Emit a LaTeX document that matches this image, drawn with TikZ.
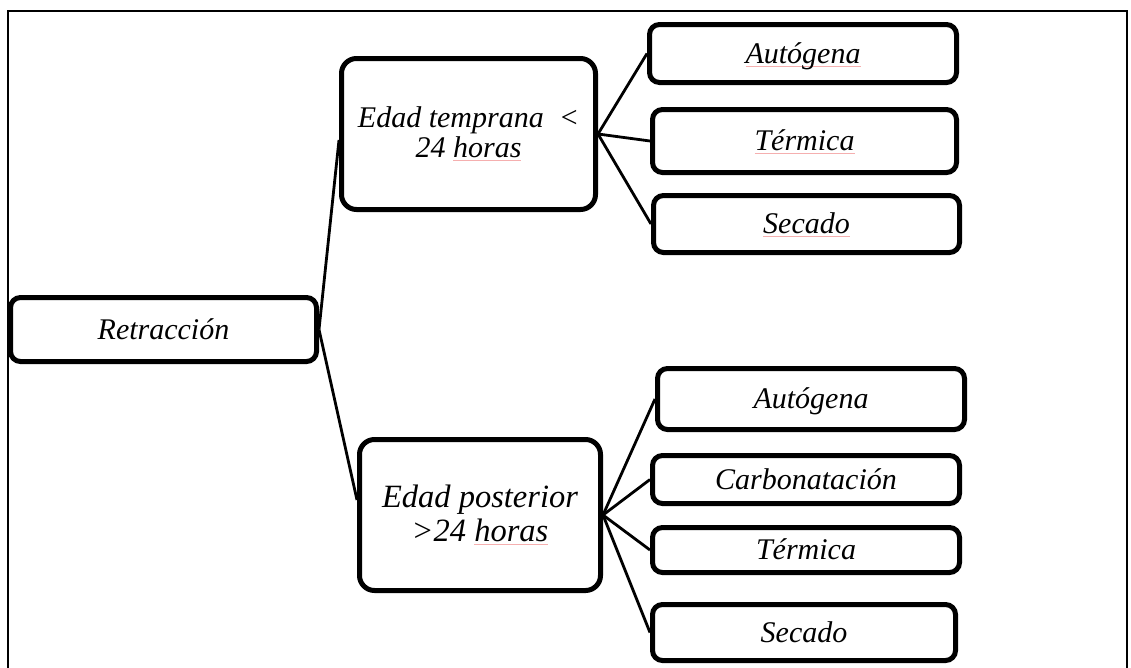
\documentclass[tikz,border=0pt]{standalone}
\usepackage{fontspec}
\setmainfont{Liberation Serif}
\definecolor{spellred}{RGB}{245,175,175}
% thin pink underline under a word
\newcommand\spellmark[1]{\setbox0\hbox{#1}\rlap{\color{spellred}\rule[-3pt]{\wd0}{0.8pt}}\box0}
\begin{document}
\begin{tikzpicture}[x=1pt,y=-1pt,
  box/.style={draw, line width=5pt, rounded corners=10pt, inner sep=0pt,
    align=center, text height=19.9pt, text depth=0pt,
    font=\itshape\fontsize{30}{30}\selectfont},
  bigbox/.style={box, rounded corners=15pt, text height={}, text depth={}},
  boxsize/.style 2 args={minimum width=#1, minimum height=#2},
  link/.style={line width=2.8pt}]
\useasboundingbox (0,0) rectangle (1131,667);
\clip (0,0) rectangle (1131,667);

% outer frame (open at the bottom)
\draw[line width=2pt] (8,700) -- (8,11) -- (1127,11) -- (1127,700);

% root
\node[box, boxsize={306pt}{64pt}] (ret) at (163.5,329.5) {Retracción};

% age groups
\node[bigbox, boxsize={254pt}{151pt}] (et) at (468.5,134)
  {Edad temprana\ \ <\\24 \spellmark{horas}};
\node[bigbox, boxsize={241pt}{151pt},
  font=\itshape\fontsize{32.5}{34}\selectfont] (ep) at (480,515)
  {Edad posterior\\>24 \spellmark{horas}};

% early-age types
\node[box, boxsize={307pt}{58pt}] (a1) at (803,53.5) {\spellmark{Autógena}};
\node[box, boxsize={304pt}{63pt}] (t1) at (804.5,141) {\spellmark{Térmica}};
\node[box, boxsize={306pt}{57pt}] (s1) at (806.5,224) {\spellmark{Secado}};

% later-age types
\node[box, boxsize={307pt}{61pt}] (a2) at (811,399) {Autógena};
\node[box, boxsize={307pt}{48pt}] (c2) at (806,479.5) {Carbonatación};
\node[box, boxsize={307pt}{45pt}] (t2) at (806,550) {Térmica};
\node[box, boxsize={303pt}{56pt}] (s2) at (804,632.5) {Secado};

% connectors
\draw[link] (ret.east) -- ([yshift=-6pt]et.west);
\draw[link] (ret.east) -- ([yshift=15pt]ep.west);
\foreach \n in {a1,t1,s1} \draw[link] (et.east) -- (\n.west);
\foreach \n in {a2,c2,t2,s2} \draw[link] (ep.east) -- (\n.west);
\end{tikzpicture}
\end{document}
